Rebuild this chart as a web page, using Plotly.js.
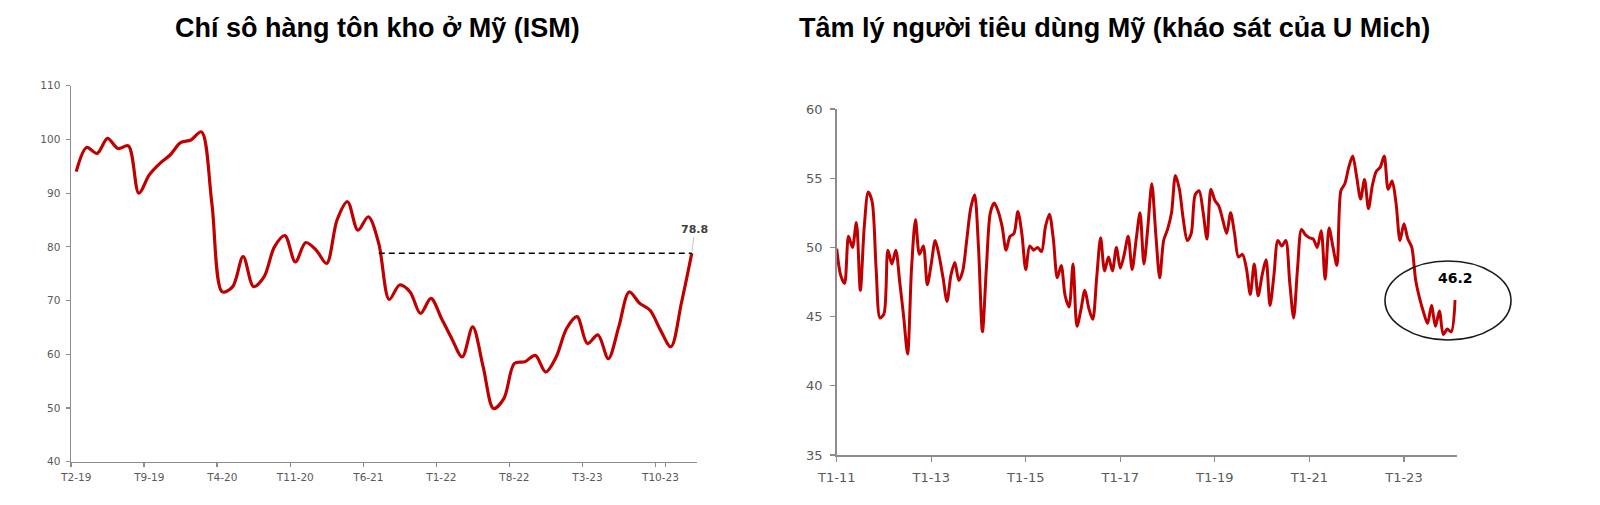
<!DOCTYPE html>
<html>
<head>
<meta charset="utf-8">
<script src="https://cdn.plot.ly/plotly-3.0.1.min.js"></script>
<style>
  html, body { margin: 0; padding: 0; background: #ffffff; }
  #chart { width: 1600px; height: 505px; }
</style>
</head>
<body>
<div id="chart"></div>
<script>
// ---------- Data ----------
// Left chart: ISM inventories index, monthly from T2-19 to T1-24
const ismStart = { month: 2, year: 2019 };
const ismValues = [
  94.0, 98.5, 97.4, 100.2, 98.3, 98.8, 90.0, 93.4, 95.5, 97.1,
  99.4, 99.9, 101.4, 88.1, 71.6, 72.6, 78.2, 72.6, 74.4, 80.0,
  82.1, 77.2, 80.8, 79.4, 76.9, 85.0, 88.4, 83.1, 85.6, 80.6,
  70.2, 72.9, 71.6, 67.6, 70.4, 66.7, 62.9, 59.5, 65.1, 57.7,
  49.9, 51.8, 58.3, 58.6, 59.8, 56.7, 59.5, 64.8, 67.0, 62.0,
  63.6, 59.2, 65.1, 71.6, 69.5, 68.2, 64.5, 61.4, 69.5, 78.8
];
const ismTickLabels = ["T2-19", "T9-19", "T4-20", "T11-20", "T6-21", "T1-22", "T8-22", "T3-23", "T10-23"];
const ismRefStart = "T7-21";   // start of the dashed reference line
const ismLabel = "78.8";

// Right chart: US consumer sentiment (U Mich survey), monthly from T1-11
const umStart = { month: 1, year: 2011 };
const umValues = [
  49.9, 48.0, 47.4, 50.8, 50.0, 51.8, 46.9, 51.5, 54.0, 53.3,
  48.5, 44.9, 45.2, 49.8, 48.8, 49.8, 47.5, 45.0, 42.3, 48.5,
  52.0, 49.5, 50.1, 47.3, 48.8, 50.5, 49.4, 47.8, 46.1, 48.0,
  48.9, 47.6, 48.3, 50.5, 52.8, 53.8, 50.0, 43.9, 48.5, 52.5,
  53.2, 52.6, 51.5, 49.8, 50.8, 51.0, 52.6, 51.0, 48.4, 50.1,
  49.8, 50.0, 49.7, 51.5, 52.4, 50.6, 47.8, 48.7, 46.5, 45.7,
  48.8, 44.3, 45.5, 46.9, 45.6, 44.8, 47.8, 50.7, 48.3, 49.3,
  48.3, 50.0, 48.5, 49.5, 50.8, 48.4, 50.5, 52.5, 48.8, 51.5,
  54.6, 51.0, 47.8, 50.5, 51.3, 52.5, 55.2, 54.2, 52.0, 50.5,
  51.0, 53.8, 54.1, 52.6, 50.6, 54.2, 53.4, 53.0, 52.0, 51.0,
  52.5, 51.0, 49.3, 49.5, 48.5, 46.6, 48.8, 46.5, 48.0, 49.1,
  45.8, 48.0, 50.5, 50.1, 50.5, 47.5, 44.9, 48.5, 51.3, 50.9,
  50.7, 50.6, 50.0, 51.2, 47.7, 51.4, 50.0, 48.7, 54.1, 54.6,
  55.8, 56.6, 55.1, 53.5, 54.9, 52.8, 54.5, 55.5, 55.8, 56.6,
  54.2, 54.8, 53.2, 50.5, 51.7, 50.6, 50.0, 47.6, 46.3, 45.3,
  44.5, 45.8, 44.3, 45.4, 43.7, 44.1, 43.9, 46.2
];
const umTickLabels = ["T1-11", "T1-13", "T1-15", "T1-17", "T1-19", "T1-21", "T1-23"];
const umLabel = "46.2";

const titleLeft = "Chí sô hàng tôn kho ở Mỹ (ISM)";
const titleRight = "Tâm lý người tiêu dùng Mỹ (kháo sát của U Mich)";

// ---------- Helpers ----------
function monthLabels(start, n) {
  const out = [];
  let m = start.month, y = start.year;
  for (let i = 0; i < n; i++) {
    out.push("T" + m + "-" + String(y % 100).padStart(2, "0"));
    m++; if (m > 12) { m = 1; y++; }
  }
  return out;
}
const ismCats = monthLabels(ismStart, ismValues.length);
const umCats = monthLabels(umStart, umValues.length);
const ismLast = ismValues[ismValues.length - 1];

const W = 1600, H = 505;
const px = x => x / W;
const py = y => (H - y) / H;

const red = "#C00000";
const axisGray = "#8C8C8C";
const tickColor = "#595959";

const traces = [
  {
    x: ismCats, y: ismValues,
    type: "scatter", mode: "lines",
    line: { color: red, width: 3.2, shape: "spline", smoothing: 0.9 },
    xaxis: "x", yaxis: "y"
  },
  {
    x: [ismRefStart, ismCats[ismCats.length - 1]],
    y: [ismLast, ismLast],
    type: "scatter", mode: "lines",
    line: { color: "#000000", width: 1.6, dash: "6px,4px" },
    xaxis: "x", yaxis: "y", hoverinfo: "skip"
  },
  {
    x: umCats, y: umValues,
    type: "scatter", mode: "lines",
    line: { color: red, width: 3, shape: "spline", smoothing: 0.8 },
    xaxis: "x2", yaxis: "y2"
  }
];

const commonAxis = {
  showgrid: false, zeroline: false,
  showline: true, linecolor: axisGray, linewidth: 1.5,
  ticks: "outside", tickcolor: axisGray, tickwidth: 1.2,
  fixedrange: true
};

const layout = {
  width: W, height: H,
  margin: { l: 0, r: 0, t: 0, b: 0 },
  paper_bgcolor: "#ffffff", plot_bgcolor: "#ffffff",
  showlegend: false,
  font: { family: "DejaVu Sans, Verdana, sans-serif", color: tickColor },
  xaxis: Object.assign({}, commonAxis, {
    domain: [px(71), px(697)],
    type: "category",
    categoryorder: "array", categoryarray: ismCats,
    range: [-0.5, ismCats.length - 0.5],
    tickmode: "array", tickvals: ismTickLabels, ticktext: ismTickLabels,
    tickson: "boundaries",
    tickangle: 0,
    ticklen: 4,
    tickfont: { size: 10.5, color: tickColor },
    ticklabelstandoff: 5,
    anchor: "y"
  }),
  yaxis: Object.assign({}, commonAxis, {
    domain: [py(461.7), py(85.7)],
    range: [40, 110], dtick: 10, tick0: 40,
    ticklen: 4,
    tickfont: { size: 10.5, color: tickColor },
    ticklabelstandoff: 3,
    anchor: "x"
  }),
  xaxis2: Object.assign({}, commonAxis, {
    domain: [px(836.7), px(1456.7)],
    type: "category",
    categoryorder: "array", categoryarray: umCats,
    range: [0, 157.4],
    tickmode: "array", tickvals: umTickLabels, ticktext: umTickLabels,
    tickangle: 0,
    ticklen: 5,
    tickfont: { size: 13, color: tickColor },
    ticklabelstandoff: 5,
    anchor: "y2"
  }),
  yaxis2: Object.assign({}, commonAxis, {
    domain: [py(455), py(109)],
    range: [35, 60], dtick: 5, tick0: 35,
    ticklen: 5,
    tickfont: { size: 13, color: tickColor },
    ticklabelstandoff: 5,
    anchor: "x2"
  }),
  shapes: [
    {
      type: "circle", xref: "paper", yref: "paper",
      x0: px(1385), x1: px(1511), y0: py(340), y1: py(261),
      line: { color: "#1a1a1a", width: 1.6 }
    }
  ],
  annotations: [
    {
      text: "<b>" + titleLeft + "</b>", xref: "paper", yref: "paper",
      x: px(377), y: py(28), xanchor: "center", yanchor: "middle",
      showarrow: false,
      font: { family: "Liberation Sans, Arial, sans-serif", size: 27, color: "#000000" }
    },
    {
      text: "<b>" + titleRight + "</b>", xref: "paper", yref: "paper",
      x: px(1114), y: py(28), xanchor: "center", yanchor: "middle",
      showarrow: false,
      font: { family: "Liberation Sans, Arial, sans-serif", size: 27, color: "#000000" }
    },
    {
      text: "<b>" + ismLabel + "</b>", xref: "x", yref: "y",
      x: ismCats[ismCats.length - 1], y: ismLast,
      showarrow: true, arrowhead: 0, arrowwidth: 1, arrowcolor: "#c8c8c8",
      ax: 3, ay: -24, standoff: 2,
      font: { family: "DejaVu Sans, Verdana, sans-serif", size: 11, color: "#404040" }
    },
    {
      text: "<b>" + umLabel + "</b>", xref: "x2", yref: "y2",
      x: umCats[umCats.length - 1], y: umValues[umValues.length - 1],
      showarrow: false, yshift: 22,
      font: { family: "DejaVu Sans, Verdana, sans-serif", size: 14, color: "#000000" }
    }
  ]
};

Plotly.newPlot("chart", traces, layout, { displayModeBar: false, staticPlot: true });
</script>
</body>
</html>
